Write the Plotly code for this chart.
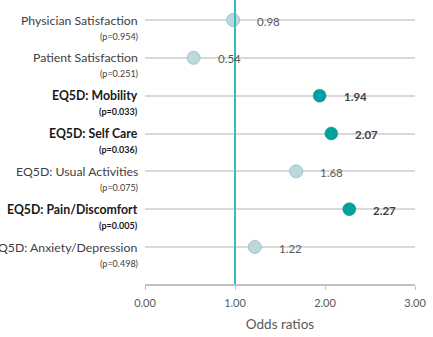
import plotly.graph_objects as go

categories = ["Physician Satisfaction", "Patient Satisfaction", "EQ5D: Mobility",
              "EQ5D: Self Care", "EQ5D: Usual Activities", "EQ5D: Pain/Discomfort",
              "EQ5D: Anxiety/Depression"]
odds_ratios = [0.98, 0.54, 1.94, 2.07, 1.68, 2.27, 1.22]
p_values = [0.954, 0.251, 0.033, 0.036, 0.075, 0.005, 0.498]
x_ticks = [0, 1, 2, 3]
x_tick_labels = ["0.00", "1.00", "2.00", "3.00"]
reference_or = 1.0

FONT = "Lato"
rows = list(range(len(categories)))
sig = [p < 0.05 for p in p_values]

fig = go.Figure()

ns_idx = [i for i in rows if not sig[i]]
s_idx = [i for i in rows if sig[i]]
fig.add_trace(go.Scatter(
    x=[odds_ratios[i] for i in ns_idx], y=[rows[i] for i in ns_idx], mode="markers",
    marker=dict(size=13, color="#bcd9d6", line=dict(color="#9dc3e6", width=1)),
    showlegend=False, hoverinfo="skip"))
fig.add_trace(go.Scatter(
    x=[odds_ratios[i] for i in s_idx], y=[rows[i] for i in s_idx], mode="markers",
    marker=dict(size=13, color="#00a19a", line=dict(color="#00a19a", width=0.5)),
    showlegend=False, hoverinfo="skip"))

fig.add_shape(type="line", x0=reference_or, x1=reference_or, xref="x", y0=0, y1=1, yref="paper",
              line=dict(color="#36bcc0", width=2), layer="above")

annotations = []
for i in rows:
    b = sig[i]
    name = f"<b>{categories[i]}</b>" if b else categories[i]
    pv = f"<b>(p={p_values[i]:.3f})</b>" if b else f"(p={p_values[i]:.3f})"
    col = "#1a1a1a" if b else "#404040"
    annotations.append(dict(x=0, xref="paper", y=rows[i], yref="y", text=name,
                            xanchor="right", yanchor="middle", xshift=-6, showarrow=False,
                            font=dict(family=FONT, size=12.3, color=col), borderpad=0))
    annotations.append(dict(x=0, xref="paper", y=rows[i], yref="y", text=pv,
                            xanchor="right", yanchor="middle", xshift=-6, yshift=-16, showarrow=False,
                            font=dict(family=FONT, size=9, color=col), borderpad=0))
    vt = f"<b>{odds_ratios[i]:.2f}</b>" if b else f"{odds_ratios[i]:.2f}"
    annotations.append(dict(x=odds_ratios[i], xref="x", y=rows[i], yref="y", text=vt,
                            xanchor="left", yanchor="middle", xshift=23, yshift=-1, showarrow=False,
                            font=dict(family=FONT, size=11.5, color="#404040" if b else "#595959"),
                            borderpad=0))

fig.update_layout(
    width=433, height=337,
    margin=dict(l=145, r=18, t=0, b=53),
    paper_bgcolor="white", plot_bgcolor="white",
    annotations=annotations,
    xaxis=dict(range=[0, 3], tickvals=x_ticks, ticktext=x_tick_labels,
               showline=True, linecolor="#bfbfbf", linewidth=1.5,
               ticks="outside", ticklen=4, tickcolor="#bfbfbf",
               ticklabelstandoff=4,
               showgrid=False, zeroline=False,
               tickfont=dict(family=FONT, size=11, color="#595959"),
               title=dict(text="Odds ratios", font=dict(family=FONT, size=13.5, color="#595959"), standoff=12)),
    yaxis=dict(range=[6.978, -0.529], showticklabels=False, tickvals=rows,
               showgrid=True, gridcolor="#d9d9d9", gridwidth=1.5, zeroline=False, showline=False),
)

fig.write_html("out.html", config={"displayModeBar": False},
               post_script="document.body.style.margin='0';")
